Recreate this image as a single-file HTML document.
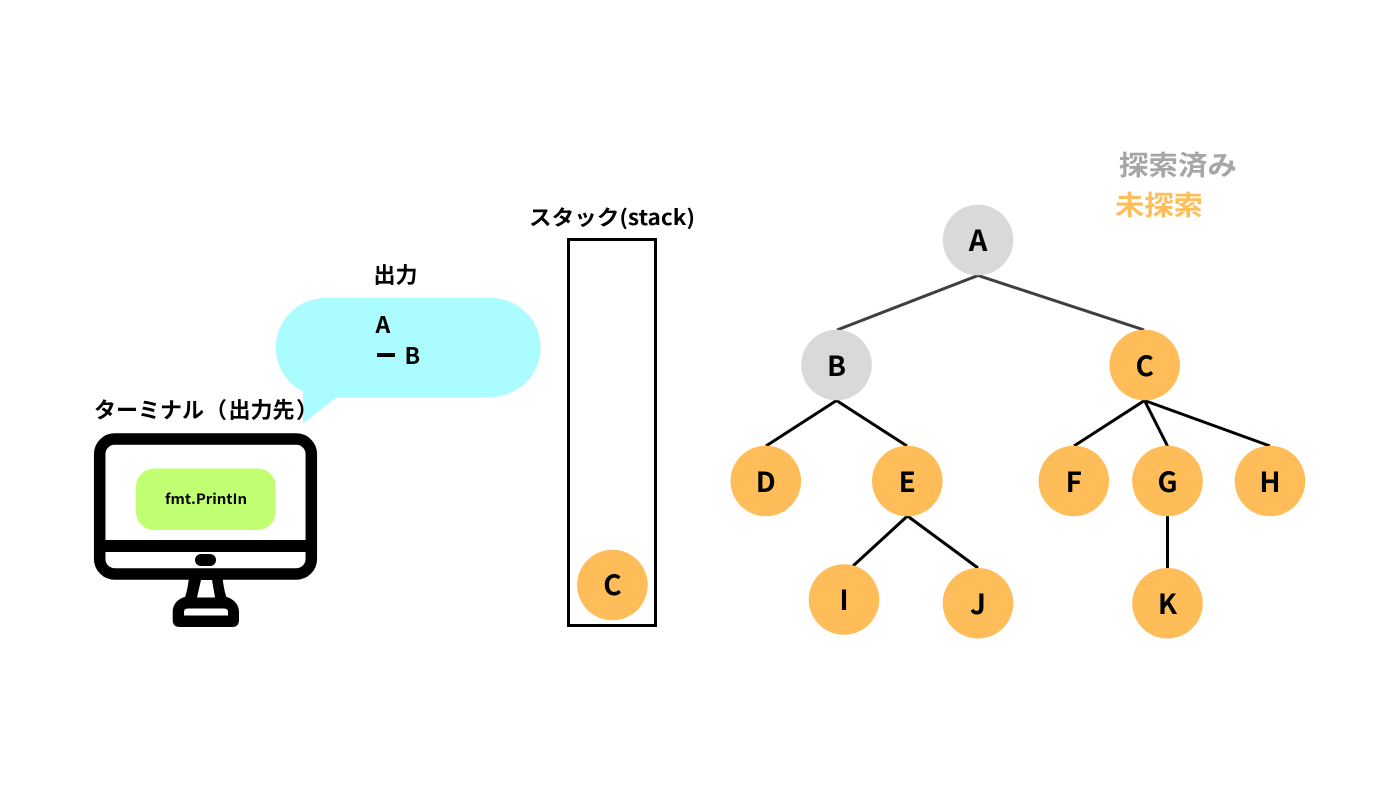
<!DOCTYPE html>
<html>
<head>
<meta charset="utf-8">
<style>
html,body{margin:0;padding:0;background:#fff;width:1400px;height:787px;overflow:hidden}
svg{display:block}
text{font-family:"Noto Sans CJK JP","Liberation Sans",sans-serif;font-weight:700;fill:#000}
.n{font-size:28px;text-anchor:middle}
</style>
</head>
<body>
<svg width="1400" height="787" viewBox="0 0 1400 787" xmlns="http://www.w3.org/2000/svg">
<rect width="1400" height="787" fill="#fff"/>

<!-- bubble -->
<rect x="275.800" y="298" width="264.700" height="99" rx="49.500" fill="#abfcff"/>
<path d="M303 385V423.500L336.700 397V385Z" fill="#abfcff"/>
<text x="373.500" y="283" font-size="22">出力</text>
<text x="375.500" y="333" font-size="23">A</text>
<rect x="377" y="353" width="18" height="4" fill="#000"/>
<text x="404.500" y="364" font-size="23">B</text>
<text y="418" font-size="22"><tspan x="94">ターミナル</tspan><tspan x="205">（</tspan><tspan x="228.500">出力先</tspan><tspan x="296">）</tspan></text>

<!-- monitor -->
<path d="M189 578C188 585 187 592 185 597C177 599 172.700 605 172.700 612V620Q172.700 627 180 627H232Q239 627 239 620V612C239 605 234 599 226.500 597C224.500 592 223.500 585 222.500 578Z" fill="#000"/>
<path d="M201 580H212L215 597.500H197Z" fill="#fff"/>
<path d="M184 615.500V612Q184 608.500 188 608.500H224Q228 608.500 228 612V615.500Z" fill="#fff"/>
<rect x="99.700" y="439" width="211.600" height="135" rx="15" fill="#fff" stroke="#000" stroke-width="11.500"/>
<rect x="100" y="540" width="211" height="12" fill="#000"/>
<rect x="195" y="554" width="21" height="12" rx="6" fill="#000"/>
<rect x="136" y="468.500" width="139.700" height="61.500" rx="18" fill="#c1ff72"/>
<text x="165" y="504" font-size="14" textLength="82" lengthAdjust="spacingAndGlyphs">fmt.PrintIn</text>

<!-- stack -->
<text x="529" y="225" font-size="21" textLength="166" lengthAdjust="spacingAndGlyphs">スタック(stack)</text>
<rect x="568.500" y="239.500" width="87" height="386" fill="#fff" stroke="#000" stroke-width="3"/>
<circle cx="612.400" cy="585" r="35.300" fill="#ffbd59"/>
<text class="n" x="612.400" y="595">C</text>

<!-- legend -->
<text x="1119" y="175" font-size="27" style="fill:#a6a6a6" textLength="118" lengthAdjust="spacingAndGlyphs">探索済み</text>
<text x="1115" y="215" font-size="27" style="fill:#ffbd59" textLength="88" lengthAdjust="spacingAndGlyphs">未探索</text>

<!-- edges -->
<g stroke="#3f3f3f" stroke-width="3" fill="none">
<path d="M837 330L978 275.500L1144 330"/>
</g>
<g stroke="#000" stroke-width="3" fill="none">
<path d="M766 446L836.500 400.500L907 446"/>
<path d="M1074 446L1144.500 400.500L1167.500 446M1144.500 400.500L1270 446"/>
<path d="M853 566L907.500 516L978 568"/>
<path d="M1167.500 516V568"/>
</g>

<!-- nodes -->
<g fill="#d9d9d9">
<circle cx="978" cy="240" r="35.300"/>
<circle cx="836.500" cy="365" r="35.300"/>
</g>
<g fill="#ffbd59">
<circle cx="1144.700" cy="365" r="35.300"/>
<circle cx="765.800" cy="481" r="35.300"/>
<circle cx="907.300" cy="481" r="35.300"/>
<circle cx="1073.800" cy="481" r="35.300"/>
<circle cx="1167.500" cy="481" r="35.300"/>
<circle cx="1270" cy="481" r="35.300"/>
<circle cx="844" cy="599.500" r="35.300"/>
<circle cx="978" cy="603.300" r="35.300"/>
<circle cx="1167.500" cy="603.300" r="35.300"/>
</g>
<text class="n" x="978" y="251" style="font-size:29px">A</text>
<text class="n" x="836.500" y="376">B</text>
<text class="n" x="1144.700" y="376">C</text>
<text class="n" x="765.800" y="492">D</text>
<text class="n" x="907.300" y="492">E</text>
<text class="n" x="1073.800" y="492">F</text>
<text class="n" x="1167.500" y="492">G</text>
<text class="n" x="1270" y="492">H</text>
<text class="n" x="844" y="610">I</text>
<text class="n" x="978" y="614">J</text>
<text class="n" x="1167.500" y="614">K</text>
</svg>
</body>
</html>
